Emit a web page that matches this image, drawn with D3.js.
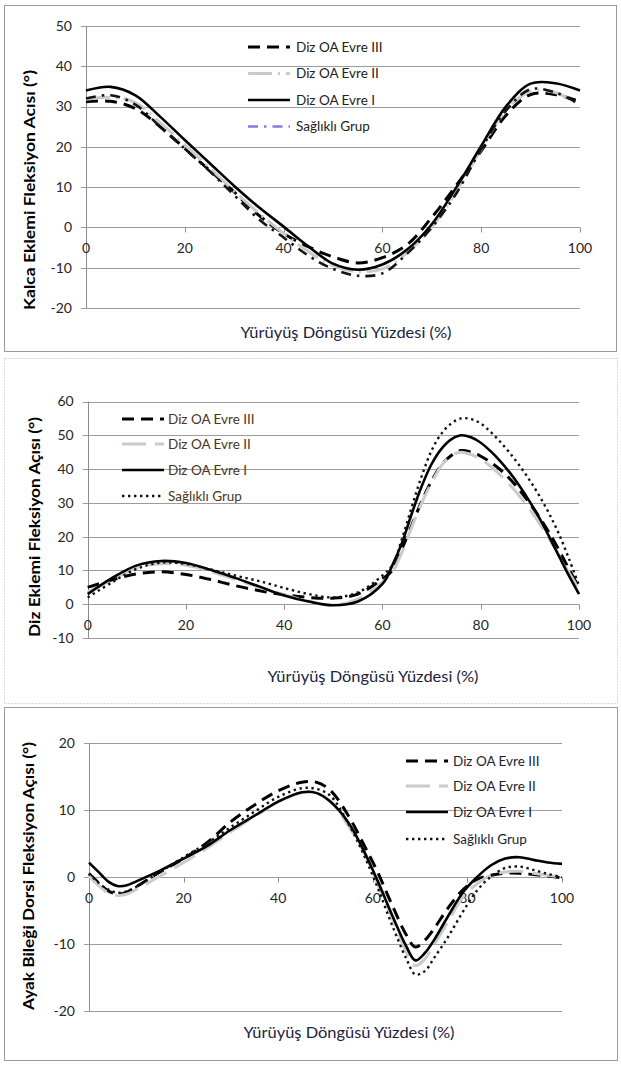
<!DOCTYPE html>
<html><head><meta charset="utf-8">
<script src="https://cdn.jsdelivr.net/npm/d3@7"></script>
<style>body{margin:0;background:#fff} text{font-family:Lato,"Open Sans",sans-serif}</style>
</head><body><svg id="c" width="621" height="1065"></svg>
<script>
// ---------- data ----------
const seriesNames = ["Diz OA Evre III", "Diz OA Evre II", "Diz OA Evre I", "Sağlıklı Grup"];
const xAxisTitle = "Yürüyüş Döngüsü Yüzdesi (%)";
const xTicks = [0, 20, 40, 60, 80, 100];

// Hip (Kalca)
const hipTitle = "Kalca Eklemi Fleksiyon  Acısı (°)";
const hipTicks = [-20, -10, 0, 10, 20, 30, 40, 50];
const hipX = [0, 5, 10, 15, 20, 25, 30, 35, 40, 45, 50, 55, 60, 65, 70, 75, 80, 85, 90, 95, 100];
const hipEvreIII = [31.2, 31.3, 29.5, 25, 19.6, 14.2, 8.8, 3, -1.5, -4.8, -7.3, -8.8, -7.5, -4.3, 2.5, 10.5, 19, 27.8, 33, 33, 31.2];
const hipEvreII = [31.8, 32.3, 31, 26, 20.5, 14.8, 9, 3.5, -1.5, -6, -9.5, -11, -10.3, -6.3, 0, 9, 19.5, 29, 33.8, 33.5, 30.3];
const hipEvreI = [34, 34.9, 32.8, 27.5, 21.7, 16, 10.3, 5, 0.2, -4.7, -9, -10.5, -9.2, -5.5, 0.8, 10, 20.2, 30, 35.7, 35.8, 34];
const hipSaglikli = [32, 32.8, 30.5, 25, 19.5, 14, 8, 2, -2.5, -7, -10.3, -12, -11.4, -6.5, 0, 8.5, 19.5, 29, 34.3, 33.5, 30.5];

// Knee (Diz)
const kneeTitle = "Diz Eklemi Fleksiyon Açısı (°)";
const kneeTicks = [-10, 0, 10, 20, 30, 40, 50, 60];
const kneeX = [0, 5, 10, 15, 20, 25, 30, 35, 40, 45, 50, 55, 60, 62, 64, 66, 68, 70, 72, 74, 76, 78, 80, 82, 84, 86, 88, 90, 92, 94, 96, 98, 100];
const kneeEvreIII = [5, 7.2, 9, 9.6, 8.8, 7.3, 5.5, 4, 2.8, 2, 1.8, 3, 7.5, 10, 16.5, 23.5, 30.5, 36.5, 41.2, 44, 45.5, 45, 43.8, 42, 39.8, 37, 33.6, 29.8, 25.6, 21, 15.8, 10.3, 5];
const kneeEvreII = [3.5, 7.2, 10.8, 12, 11.5, 9.7, 7.3, 5, 2.8, 0.9, -0.3, 1.5, 6.5, 9.5, 15.5, 23, 30, 36, 41, 44, 45, 44.3, 43, 40.8, 38.2, 35.2, 31.8, 28, 23.8, 19.2, 14.2, 9.2, 4.5];
const kneeEvreI = [3, 7.8, 11.5, 12.8, 12.2, 10.2, 7.8, 5.2, 2.6, 0.8, -0.3, 0.8, 6, 11.5, 18.3, 27, 35, 41.5, 46, 48.8, 50, 49.4, 47.8, 45.3, 42.3, 38.8, 34.8, 30.3, 25.3, 19.8, 14, 8.3, 3];
const kneeSaglikli = [2, 6.5, 10.5, 12.3, 11.9, 10.3, 8.5, 6.8, 4.8, 3, 2, 3.5, 8.5, 11.5, 19.5, 29, 38, 45.5, 50.5, 53.5, 55, 54.8, 53.5, 51, 48, 44.6, 40.8, 36.6, 31.9, 26.6, 20.5, 13.3, 5.5];

// Ankle (Ayak Bileği)
const ankleTitle = "Ayak Bileği  Dorsi Fleksiyon Açısı (°)";
const ankleTicks = [-20, -10, 0, 10, 20];
const ankleX = [0, 2, 4, 6, 8, 10, 15, 20, 25, 30, 35, 40, 45, 48, 51, 55, 58, 61, 64, 67, 69, 71, 73, 76, 79, 82, 85, 88, 91, 94, 97, 100];
const ankleEvreIII = [0.5, -0.8, -2, -2.5, -2.2, -1.4, 0.8, 2.8, 5.2, 8.3, 10.8, 12.9, 14.2, 14.2, 13, 9, 5, 0.8, -4, -8.5, -10.4, -9.4, -7.6, -4.5, -1.9, -0.3, 0.3, 0.6, 0.6, 0.4, 0.2, -0.1];
const ankleEvreII = [0.2, -1.2, -2.3, -2.7, -2.5, -1.8, 0.2, 2.2, 4.4, 6.8, 9.1, 11.2, 12.6, 12.6, 11.4, 7.5, 4, -1, -6, -11, -13.2, -12.2, -10, -6.5, -3, -1, 0.3, 0.8, 0.9, 0.6, 0.3, 0];
const ankleEvreI = [2.2, 0.8, -0.6, -1.3, -1.2, -0.6, 1.0, 2.8, 4.7, 7.1, 9.2, 11.3, 12.7, 12.6, 11.3, 8, 4.1, -0.5, -5.5, -10.2, -12.4, -11.3, -9.3, -5.7, -2.3, 0, 1.8, 2.8, 3, 2.6, 2.2, 2];
const ankleSaglikli = [0.6, -0.8, -1.8, -2.3, -2.1, -1.4, 0.8, 3, 5.1, 7.5, 9.8, 12, 13.3, 13.2, 12.2, 7.8, 3.5, -1.5, -7, -12, -14.5, -14, -12, -8.8, -5.2, -2, 0.1, 1.4, 1.6, 1.1, 0.5, 0];

// ---------- layout ----------
const panels = [
  { x: hipX, series: [hipEvreIII, hipEvreII, hipEvreI, hipSaglikli], ticks: hipTicks, title: hipTitle,
    frame: [4.5, 5.5, 612, 346, false], px: [86, 580], py: [308, 26],
    legend: { x1: 248, x2: 290, tx: 296, ys: [47, 73.5, 100, 126.5], color: "#222" },
    ytitle: [30, 190, 240], xtitle: [346, 333], hip: true },
  { x: kneeX, series: [kneeEvreIII, kneeEvreII, kneeEvreI, kneeSaglikli], ticks: kneeTicks, title: kneeTitle,
    frame: [4.5, 358.5, 613, 345, true], px: [87.7, 579], py: [638, 401.5],
    legend: { x1: 122, x2: 164, tx: 168, ys: [419, 444, 470, 496], color: "#4a3522" },
    ytitle: [35, 527, 220], xtitle: [373, 677], hip: false },
  { x: ankleX, series: [ankleEvreIII, ankleEvreII, ankleEvreI, ankleSaglikli], ticks: ankleTicks, title: ankleTitle,
    frame: [4.5, 707.5, 613, 353, false], px: [89, 562], py: [1011.3, 743.3],
    legend: { x1: 406, x2: 448, tx: 453, ys: [761, 786, 812, 839], color: "#1e1e2e" },
    ytitle: [29, 876, 268], xtitle: [349, 1033], hip: false }
];

function styleFor(i, hip, legend) {
  if (i === 0) return { stroke: "#000", w: 3, dash: "12,7" };
  if (i === 1) return hip ? { stroke: "#c8cbcb", w: 3, dash: "24,6,2,6" } : { stroke: "#c9cccc", w: 3, dash: "24,9" };
  if (i === 2) return { stroke: "#000", w: 2.6, dash: null };
  if (hip) return { stroke: legend ? "#8878e6" : "#141414", w: 2.6, dash: "10,6,2.5,6" };
  return { stroke: "#111", w: 2.4, dash: "2.4,3.6" };
}

const svg = d3.select("#c");

panels.forEach(p => {
  const g = svg.append("g");
  const [fx, fy, fw, fh, dotted] = p.frame;
  g.append("rect").attr("x", fx).attr("y", fy).attr("width", fw).attr("height", fh)
    .attr("fill", "none").attr("stroke", dotted ? "#b4b4b4" : "#9a9a9a").attr("stroke-width", 1)
    .attr("stroke-dasharray", dotted ? "1,2" : null);

  const dom = d3.extent(p.ticks);
  const x = d3.scaleLinear().domain([0, 100]).range(p.px);
  const y = d3.scaleLinear().domain(dom).range(p.py);

  // gridlines (with small outward tick)
  g.append("g").selectAll("line").data(p.ticks).join("line")
    .attr("x1", p.px[0] - 5).attr("x2", p.px[1])
    .attr("y1", d => Math.round(y(d)) + 0.5).attr("y2", d => Math.round(y(d)) + 0.5)
    .attr("stroke", "#9c9c9c").attr("stroke-width", 1);
  // y axis line
  g.append("line").attr("x1", Math.round(p.px[0]) + 0.5).attr("x2", Math.round(p.px[0]) + 0.5)
    .attr("y1", p.py[1]).attr("y2", p.py[0]).attr("stroke", "#8c8c8c");
  // x ticks at zero line
  const y0 = Math.round(y(0)) + 0.5;
  g.append("g").selectAll("line").data(xTicks).join("line")
    .attr("x1", d => Math.round(x(d)) + 0.5).attr("x2", d => Math.round(x(d)) + 0.5)
    .attr("y1", y0).attr("y2", y0 + 5).attr("stroke", "#8c8c8c");

  // y tick labels
  g.append("g").selectAll("text").data(p.ticks).join("text")
    .attr("x", p.px[0] - 14).attr("y", d => y(d)).attr("dy", "0.35em")
    .attr("text-anchor", "end").attr("font-size", 14).attr("fill", "#262626")
    .text(d => d);
  // x tick labels
  g.append("g").selectAll("text").data(xTicks).join("text")
    .attr("x", d => x(d)).attr("y", y(0) + 21).attr("dy", "0.35em")
    .attr("text-anchor", "middle").attr("font-size", 14).attr("fill", "#262626")
    .text(d => d);

  // lines
  const line = d3.line().x(d => x(d[0])).y(d => y(d[1])).curve(d3.curveCatmullRom.alpha(0.5));
  p.series.forEach((vals, i) => {
    const s = styleFor(i, p.hip, false);
    g.append("path").datum(p.x.map((xv, k) => [xv, vals[k]]))
      .attr("d", line).attr("fill", "none").attr("stroke", s.stroke)
      .attr("stroke-width", s.w).attr("stroke-dasharray", s.dash);
  });

  // legend
  const L = p.legend;
  seriesNames.forEach((name, i) => {
    const s = styleFor(i, p.hip, true);
    g.append("line").attr("x1", L.x1).attr("x2", L.x2).attr("y1", L.ys[i]).attr("y2", L.ys[i])
      .attr("stroke", s.stroke).attr("stroke-width", s.w).attr("stroke-dasharray", s.dash);
    g.append("text").attr("x", L.tx).attr("y", L.ys[i]).attr("dy", "0.35em")
      .attr("font-size", 13.5).attr("fill", L.color).text(name);
  });

  // axis titles
  g.append("text").attr("transform", `translate(${p.ytitle[0]},${p.ytitle[1]}) rotate(-90)`)
    .attr("text-anchor", "middle").attr("dy", "0.35em").attr("font-size", 15).attr("font-weight", "bold")
    .attr("fill", "#000").attr("textLength", p.ytitle[2]).attr("lengthAdjust", "spacingAndGlyphs")
    .text(p.title);
  g.append("text").attr("x", p.xtitle[0]).attr("y", p.xtitle[1]).attr("dy", "0.35em")
    .attr("text-anchor", "middle").attr("font-size", 15).attr("fill", "#1c2340")
    .attr("textLength", 211).attr("lengthAdjust", "spacingAndGlyphs")
    .text(xAxisTitle);
});
</script></body></html>
